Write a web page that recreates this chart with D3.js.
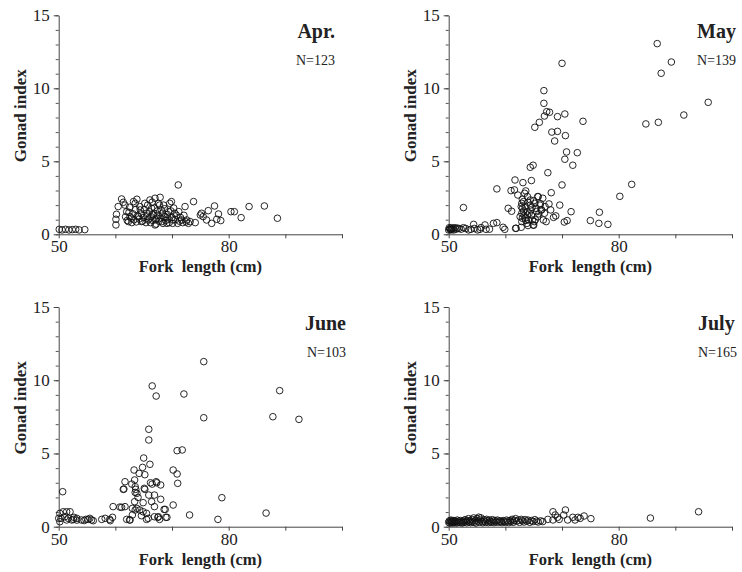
<!DOCTYPE html>
<html>
<head>
<meta charset="utf-8">
<script src="https://cdn.jsdelivr.net/npm/d3@7"></script>
<style>
  body { margin: 0; background: #fff; }
  svg { display: block; }
  text { font-family: "Liberation Serif", "Times New Roman", serif; fill: #222; }
</style>
</head>
<body>
<div id="chart"></div>
<script>
// months shown, one panel each
const months = ["Apr.", "May", "June", "July"];
const sampleSizes = ["N=123", "N=139", "N=103", "N=165"];

// axis ticks
const xTicks = [50, 60, 70, 80, 90, 100];
const xLabelled = [50, 80];
const yMajor = [0, 5, 10, 15];
const yMinor = [0, 1, 2, 3, 4, 5, 6, 7, 8, 9, 10, 11, 12, 13, 14, 15];

// [fork length (cm), gonad index]
const aprPoints = [
  [50.1,0.34],[50.6,0.3],[51.2,0.34],[51.8,0.3],[52.4,0.32],[53.0,0.34],[53.6,0.3],[54.6,0.32],
  [60.1,0.64],[60.1,1.03],[60.2,1.37],[60.5,1.9],[61.1,2.42],[61.4,2.19],[61.7,2.0],[62.0,1.55],
  [62.3,0.87],[62.6,1.21],[63.2,2.24],[63.5,2.12],[63.8,2.4],[64.1,1.21],[64.4,1.67],[64.6,0.87],
  [65.2,2.12],[65.5,1.44],[65.8,0.98],[66.1,2.35],[66.4,1.78],[66.7,1.32],[67.0,2.47],[67.0,0.64],
  [67.3,1.1],[67.6,2.12],[67.9,2.53],[68.1,1.67],[68.2,0.87],[68.5,2.0],[68.8,1.21],[69.1,0.75],
  [69.4,1.55],[69.6,2.12],[69.9,2.24],[70.2,0.98],[70.5,1.44],[71.0,0.75],[71.1,3.38],[71.2,1.55],
  [71.7,0.98],[72.3,1.9],[72.6,0.98],[72.9,0.75],[73.2,0.87],[73.8,2.24],[74.1,0.8],[75.0,1.32],
  [75.2,1.44],[75.5,1.21],[76.1,0.98],[76.4,1.62],[77.0,0.75],[77.5,1.94],[77.9,1.03],[78.2,1.39],
  [78.6,0.94],[80.4,1.55],[81.0,1.55],[82.2,1.14],[83.6,1.9],[86.3,1.94],[88.6,1.1],
  [61.8,1.2],[62.1,0.95],[62.4,1.5],[62.8,1.1],[62.9,0.8],[63.1,1.4],[63.3,1.0],[63.6,1.7],
  [63.7,0.85],[63.9,1.25],[64.2,1.05],[64.3,1.9],[64.6,1.4],[64.8,0.9],[65.0,1.15],[65.1,1.7],
  [65.4,0.8],[65.6,1.25],[65.7,2.0],[65.9,1.05],[66.0,1.55],[66.2,0.8],[66.3,1.2],[66.5,2.2],
  [66.6,0.95],[66.8,1.45],[66.9,1.8],[67.1,1.0],[67.2,0.7],[67.4,1.6],[67.5,1.3],[67.7,0.9],
  [67.8,2.0],[68.0,1.1],[68.3,1.45],[68.4,0.75],[68.6,1.2],[68.7,1.75],[68.9,0.95],[69.2,1.35],
  [69.3,1.05],[69.5,0.8],[69.8,1.6],[70.0,1.15],[70.1,0.75],[70.3,1.8],[70.6,1.0],[70.8,1.3],
  [71.3,0.9],[71.5,1.15],[71.9,0.8],[72.1,1.3],[72.5,0.85],[62.5,1.85]
];

const mayPoints = [
  [86.8,13.06],[89.3,11.8],[87.5,11.03],[95.8,9.04],[91.5,8.17],[87.0,7.67],[84.8,7.56],[82.3,3.42],
  [80.2,2.6],[70.0,11.71],[66.8,9.84],[66.8,8.97],[66.9,8.1],[67.3,8.4],[67.8,8.36],[66.0,7.67],
  [65.2,7.33],[69.2,8.06],[70.5,8.24],[73.7,7.74],[68.2,7.0],[69.2,7.05],[70.6,6.76],[68.7,6.39],
  [70.8,5.64],[72.7,5.59],[70.5,5.14],[71.9,4.73],[64.9,4.73],[64.4,4.59],[67.5,4.22],[61.7,3.72],
  [63.1,3.54],[64.6,3.68],[70.0,3.38],[68.1,2.85],[58.5,3.11],[69.6,2.0],[71.6,1.55],[52.6,1.83],
  [75.0,0.94],[76.6,1.51],[76.5,0.75],[78.1,0.68],[70.4,0.84],[70.9,0.94],[67.2,0.87],[68.5,1.16],
  [68.9,1.26],[67.7,2.08],[68.0,1.67],[65.0,0.62],[61.9,0.41],[62.8,0.48],[60.5,1.78],[61.1,1.58],
  [61.0,2.99],[61.6,3.04],[62.2,2.69],[63.6,2.97],[63.4,2.81],[63.9,2.58],[65.7,2.58],[66.6,2.47],
  [66.3,1.67],[66.9,1.44],
  [62.9,2.12],[63.0,1.78],[62.9,1.44],[63.0,1.1],[62.9,0.87],[63.5,1.9],[63.8,1.55],[64.1,0.98],
  [64.4,2.35],[64.4,2.0],[64.5,1.67],[64.6,1.32],[64.8,0.98],[64.9,0.64],[65.2,2.12],[65.4,1.78],
  [65.5,1.55],[65.7,1.21],[65.8,2.58],[66.1,2.0],[66.4,1.67],[66.7,0.98],[67.0,1.9],[63.5,1.1],
  [63.8,0.75],[62.6,1.21],[62.8,1.9],[63.2,2.24],[63.9,1.32],[65.1,0.87],
  [63.0,2.4],[63.3,1.3],[63.6,0.95],[64.0,2.2],[64.2,1.45],[64.7,1.85],[65.0,2.3],[65.3,1.0],
  [65.9,1.4],[66.2,2.1],[63.2,1.6],[64.0,0.6],
  [50.0,0.3],[50.1,0.45],[50.2,0.35],[50.3,0.4],[50.4,0.3],[50.5,0.45],[50.6,0.35],[50.8,0.4],
  [50.9,0.3],[51.1,0.45],[51.3,0.35],[51.5,0.42],[51.8,0.4],[52.2,0.35],[52.6,0.45],[53.0,0.4],
  [53.5,0.3],[53.9,0.34],[54.4,0.68],[54.5,0.4],[55.1,0.3],[55.5,0.34],[55.7,0.46],[56.4,0.64],
  [56.6,0.34],[57.2,0.35],[57.9,0.75],[58.5,0.8],[59.6,0.48],[59.9,0.34],[61.8,0.41]
];

const junePoints = [
  [75.6,11.27],[66.5,9.61],[67.2,8.92],[72.1,9.06],[89.0,9.29],[87.8,7.51],[92.4,7.33],[75.6,7.44],
  [65.9,6.65],[65.9,5.92],[70.9,5.19],[71.8,5.24],[65.0,4.69],[66.1,4.26],[63.3,3.87],[70.2,3.87],
  [70.9,3.6],[64.8,4.05],[65.2,3.55],[64.2,3.64],[61.7,3.07],[61.5,2.57],[62.9,2.91],[63.4,3.19],
  [63.6,2.55],[63.5,2.34],[65.2,2.55],[66.5,2.91],[67.2,3.07],[68.0,2.85],[65.9,2.16],[66.9,2.16],
  [66.4,1.71],[68.0,1.87],[66.9,1.37],[68.6,1.18],[70.2,1.48],[71.0,2.96],[63.4,1.71],[64.9,1.64],
  [59.6,1.37],[60.8,1.34],[61.7,1.37],[63.0,1.25],[63.5,1.14],[63.8,1.25],[64.3,1.14],[64.9,1.02],
  [65.5,0.91],[64.6,0.75],[65.8,0.57],[66.9,0.68],[67.5,0.64],[68.9,0.64],[62.0,0.5],[62.5,0.46],
  [59.5,0.64],[73.1,0.8],[78.1,0.5],[78.8,1.98],[86.6,0.93],[50.7,2.39],
  [50.2,0.91],[50.4,0.57],[50.8,1.02],[51.4,1.02],[52.0,1.02],[51.1,0.68],[51.7,0.57],[52.3,0.46],
  [52.7,0.64],[53.2,0.57],[50.0,0.57],[50.2,0.34],[54.0,0.46],[54.8,0.5],[55.5,0.57],[55.8,0.46],
  [56.1,0.41],[57.6,0.5],[59.0,0.5],
  [61.4,2.55],[63.5,2.73],[63.8,2.28],[65.1,2.62],[67.3,3.0],[62.6,0.46],[65.5,0.5],[67.6,0.68],
  [69.1,0.64],[68.8,1.18],[61.1,1.32],[58.2,0.57],[59.1,0.41],[52.6,0.5],[51.4,0.46],[53.2,0.45],
  [54.5,0.42],[55.2,0.5],[64.0,2.0],[66.2,3.0],[67.8,0.5],[63.0,0.8]
];

const julyPoints = [
  [50.0,0.3],[50.1,0.4],[50.2,0.25],[50.3,0.35],[50.4,0.45],[50.5,0.3],[50.6,0.38],[50.7,0.25],
  [50.8,0.42],[50.9,0.32],[51.0,0.28],[51.1,0.4],[51.3,0.35],[51.4,0.25],[51.5,0.45],[51.7,0.3],
  [51.8,0.38],[52.0,0.28],[52.1,0.42],[52.3,0.33],[52.4,0.25],[52.6,0.4],[52.7,0.3],[52.9,0.48],
  [53.0,0.35],[53.2,0.27],[53.3,0.42],[53.5,0.55],[53.6,0.32],[53.8,0.4],[53.9,0.28],[54.1,0.5],
  [54.2,0.35],[54.4,0.6],[54.5,0.3],[54.7,0.42],[54.8,0.25],[55.0,0.55],[55.1,0.38],[55.3,0.65],
  [55.4,0.3],[55.6,0.45],[55.7,0.6],[55.9,0.35],[56.0,0.27],[56.2,0.48],[56.3,0.38],[56.5,0.3],
  [56.7,0.5],[56.8,0.4],[57.0,0.28],[57.2,0.45],[57.3,0.35],[57.5,0.3],[57.7,0.48],[57.9,0.38],
  [58.0,0.28],[58.2,0.42],[58.4,0.33],[58.6,0.45],[58.8,0.3],[59.0,0.4],[59.2,0.35],[59.4,0.28],
  [59.6,0.42],[59.8,0.35],[60.0,0.3],[60.2,0.45],[60.4,0.38],[60.6,0.28],[60.8,0.42],[61.0,0.35],
  [61.2,0.5],[61.4,0.3],[61.6,0.42],[61.8,0.55],[62.0,0.38],[62.3,0.45],[62.5,0.3],[62.8,0.5],
  [63.0,0.4],[63.3,0.32],[63.5,0.48],[63.8,0.38],[64.0,0.45],[64.3,0.3],[64.6,0.42],[64.9,0.35],
  [65.2,0.48],[65.5,0.38],[65.8,0.32],[66.2,0.4],[66.6,0.35],
  [67.5,0.5],[68.4,0.46],[68.4,1.02],[68.8,0.8],[69.2,0.64],[69.5,0.5],[70.3,0.8],[70.6,1.14],
  [71.0,0.46],[71.9,0.64],[72.3,0.46],[72.8,0.64],[73.2,0.57],[73.9,0.73],[75.1,0.55],[85.6,0.59],
  [94.1,1.02]
];

const allPoints = [aprPoints, mayPoints, junePoints, julyPoints];

// panel frames: left edge of axis, top and bottom of y axis, where the month tag sits
const panels = [
  { left: 58.7,  top: 15.3, bottom: 234.3, tagX: 335, anchor: "end" },
  { left: 448.7, top: 15.3, bottom: 234.3, tagX: 697, anchor: "start" },
  { left: 58.7,  top: 307,  bottom: 526.7, tagX: 346, anchor: "end" },
  { left: 448.7, top: 307,  bottom: 526.7, tagX: 698, anchor: "start" }
];
const axisWidth = 283.3;

const svg = d3.select("#chart").append("svg")
    .attr("width", 742)
    .attr("height", 572);

panels.forEach(function(p, i) {
    const x = d3.scaleLinear().domain([50, 100]).range([p.left, p.left + axisWidth]);
    const y = d3.scaleLinear().domain([0, 15]).range([p.bottom, p.top]);

    const g = svg.append("g");

    // y axis: minor ticks every unit, labels every 5
    g.append("g")
        .attr("transform", "translate(" + p.left + ",0)")
        .call(d3.axisLeft(y).tickValues(yMinor).tickSize(3).tickSizeOuter(0).tickFormat(""))
        .call(function(a) { a.select(".domain").attr("stroke", "#444"); a.selectAll(".tick line").attr("stroke", "#555"); });
    g.append("g")
        .attr("transform", "translate(" + p.left + ",0)")
        .call(d3.axisLeft(y).tickValues(yMajor).tickSize(5).tickSizeOuter(0).tickPadding(4))
        .call(function(a) {
            a.select(".domain").remove();
            a.selectAll(".tick line").attr("stroke", "#444");
            a.selectAll(".tick text").attr("font-size", 17).attr("font-family", "Liberation Serif").attr("fill", "#222");
        });

    // x axis
    g.append("g")
        .attr("transform", "translate(0," + p.bottom + ")")
        .call(d3.axisBottom(x).tickValues(xTicks).tickSize(4).tickSizeOuter(0).tickPadding(2)
            .tickFormat(function(d) { return xLabelled.indexOf(d) >= 0 ? d : ""; }))
        .call(function(a) {
            a.select(".domain").attr("stroke", "#444");
            a.selectAll(".tick line").attr("stroke", "#444");
            a.selectAll(".tick text").attr("font-size", 17).attr("font-family", "Liberation Serif").attr("fill", "#222");
        });

    // axis titles
    g.append("text")
        .attr("x", p.left + axisWidth / 2)
        .attr("y", p.bottom + 38)
        .attr("text-anchor", "middle")
        .attr("font-size", 16.5)
        .attr("font-weight", "bold")
        .style("white-space", "pre")
        .text("Fork  length (cm)");

    g.append("text")
        .attr("transform", "translate(" + (p.left - 33) + "," + ((p.top + p.bottom) / 2 - 9) + ") rotate(-90)")
        .attr("text-anchor", "middle")
        .attr("font-size", 17)
        .attr("font-weight", "bold")
        .text("Gonad index");

    // month + N
    g.append("text")
        .attr("x", p.tagX)
        .attr("y", p.top + 23)
        .attr("text-anchor", p.anchor)
        .attr("font-size", 20)
        .attr("font-weight", "bold")
        .text(months[i]);
    g.append("text")
        .attr("x", p.tagX)
        .attr("y", p.top + 50)
        .attr("text-anchor", p.anchor)
        .attr("font-size", 14)
        .text(sampleSizes[i]);

    g.selectAll("circle")
        .data(allPoints[i])
        .enter().append("circle")
        .attr("cx", function(d) { return x(d[0]); })
        .attr("cy", function(d) { return y(d[1]); })
        .attr("r", 3.3)
        .attr("fill", "none")
        .attr("stroke", "#111")
        .attr("stroke-width", 0.9);
});
</script>
</body>
</html>
